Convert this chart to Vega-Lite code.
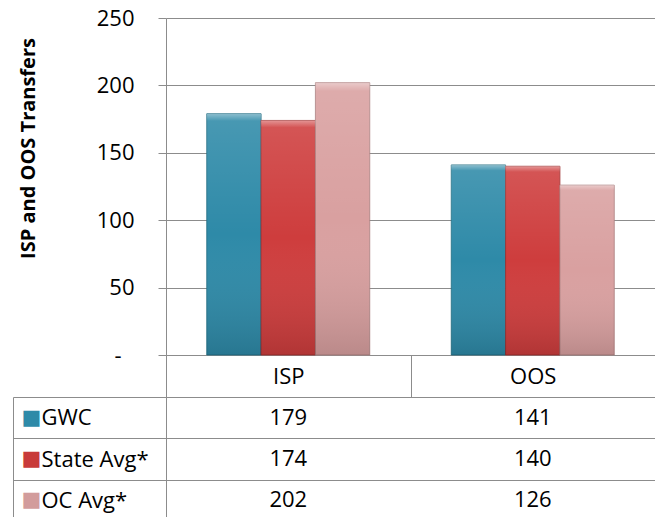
{
  "$schema": "https://vega.github.io/schema/vega-lite/v6.json",
  "padding": {"left": 12, "top": 7, "right": 0, "bottom": 0},
  "background": "white",
  "config": {"font": "Open Sans", "view": {"stroke": null}},
  "data": {"values": [
    {"category": "ISP", "series": "GWC", "value": 179},
    {"category": "ISP", "series": "State Avg*", "value": 174},
    {"category": "ISP", "series": "OC Avg*", "value": 202},
    {"category": "OOS", "series": "GWC", "value": 141},
    {"category": "OOS", "series": "State Avg*", "value": 140},
    {"category": "OOS", "series": "OC Avg*", "value": 126}
  ]},
  "bounds": "flush",
  "spacing": 42,
  "vconcat": [
    {
      "width": 489,
      "height": 337,
      "layer": [
        {
          "mark": {"type": "bar", "strokeWidth": 1, "strokeOpacity": 0.8},
          "encoding": {
            "x": {"field": "category", "type": "nominal", "sort": ["ISP", "OOS"],
                  "scale": {"paddingInner": 0, "paddingOuter": 0},
                  "axis": {"title": null, "orient": "bottom", "domainColor": "#8c8c8c", "tickBand": "extent", "tickSize": 42, "tickColor": "#8c8c8c", "labelFontSize": 22, "labelColor": "black", "labelBaseline": "middle", "labelPadding": -21, "labelAngle": 0, "grid": false}},
            "xOffset": {"field": "series", "type": "nominal", "sort": ["GWC", "State Avg*", "OC Avg*"], "scale": {"paddingInner": 0, "paddingOuter": 0.75}},
            "y": {"field": "value", "type": "quantitative", "scale": {"domain": [0, 250], "nice": false},
                  "axis": {"title": "ISP and OOS Transfers", "titleFontSize": 20, "titleFontWeight": "bold", "titleColor": "black", "titlePadding": 58, "titleY": 130,
                           "values": [0, 50, 100, 150, 200, 250],
                           "labelExpr": "datum.value === 0 ? '-' : datum.label",
                           "labelPadding": {"condition": {"test": "datum.value === 0", "value": 37}, "value": 24},
                           "labelFontSize": 22, "labelColor": "black", "tickSize": 8, "tickColor": "#8c8c8c", "domainColor": "#8c8c8c", "grid": true, "gridColor": "#8c8c8c"}},
            "color": {"field": "series", "type": "nominal", "scale": {"domain": ["GWC", "State Avg*", "OC Avg*"], "range": ["#2E8AA8", "#CE3D3D", "#D9A0A0"]}, "legend": null},
            "stroke": {"field": "series", "type": "nominal", "scale": {"domain": ["GWC", "State Avg*", "OC Avg*"], "range": ["#1F6A80", "#9A2A2A", "#A87C7C"]}, "legend": null}
          }
        },
        {
          "mark": {"type": "bar", "fill": {"gradient": "linear", "x1": 0, "y1": 0, "x2": 0, "y2": 1, "stops": [
            {"offset": 0, "color": "rgba(255,255,255,0.45)"},
            {"offset": 0.03, "color": "rgba(255,255,255,0.12)"},
            {"offset": 0.5, "color": "rgba(255,255,255,0)"},
            {"offset": 1, "color": "rgba(0,0,0,0.14)"}
          ]}},
          "encoding": {
            "x": {"field": "category", "type": "nominal", "sort": ["ISP", "OOS"]},
            "xOffset": {"field": "series", "type": "nominal", "sort": ["GWC", "State Avg*", "OC Avg*"]},
            "y": {"field": "value", "type": "quantitative"}
          }
        }
      ]
    },
    {
      "width": 489,
      "height": 124,
      "view": {"stroke": "#8c8c8c"},
      "layer": [
        {
          "mark": {"type": "text", "fontSize": 22, "color": "black"},
          "encoding": {
            "x": {"field": "category", "type": "nominal", "sort": ["ISP", "OOS"], "scale": {"padding": 0},
                  "axis": {"title": null, "labels": false, "ticks": false, "domain": false, "grid": true, "gridColor": "#8c8c8c", "tickBand": "extent"}},
            "y": {"field": "series", "type": "nominal", "sort": ["GWC", "State Avg*", "OC Avg*"], "scale": {"padding": 0},
                  "axis": {"title": null, "orient": "left", "domain": false, "ticks": true, "tickBand": "extent", "tickSize": 153, "tickColor": "#8c8c8c", "grid": true, "gridColor": "#8c8c8c", "labelFontSize": 22, "labelColor": "black", "labelAlign": "left", "labelPadding": -28}},
            "text": {"field": "value", "type": "quantitative"}
          }
        },
        {
          "mark": {"type": "text", "fontSize": 22, "opacity": 0},
          "encoding": {
            "x": {"field": "category", "type": "nominal", "sort": ["ISP", "OOS"], "axis": null},
            "y": {"field": "series", "type": "nominal", "sort": ["GWC", "State Avg*", "OC Avg*"],
                  "axis": {"title": null, "orient": "left", "offset": 153, "domain": true, "domainColor": "#8c8c8c", "ticks": false, "grid": false, "labelFont": "DejaVu Sans", "labelFontSize": 21, "labelAlign": "left", "labelPadding": -8, "labelExpr": "'■'",
                           "labelColor": {"condition": [{"test": "datum.value === 'GWC'", "value": "#2E8AA8"}, {"test": "datum.value === 'State Avg*'", "value": "#C83A3A"}], "value": "#D29C9C"}}},
            "text": {"field": "value", "type": "quantitative"}
          }
        }
      ],
      "resolve": {"axis": {"y": "independent"}}
    }
  ]
}
